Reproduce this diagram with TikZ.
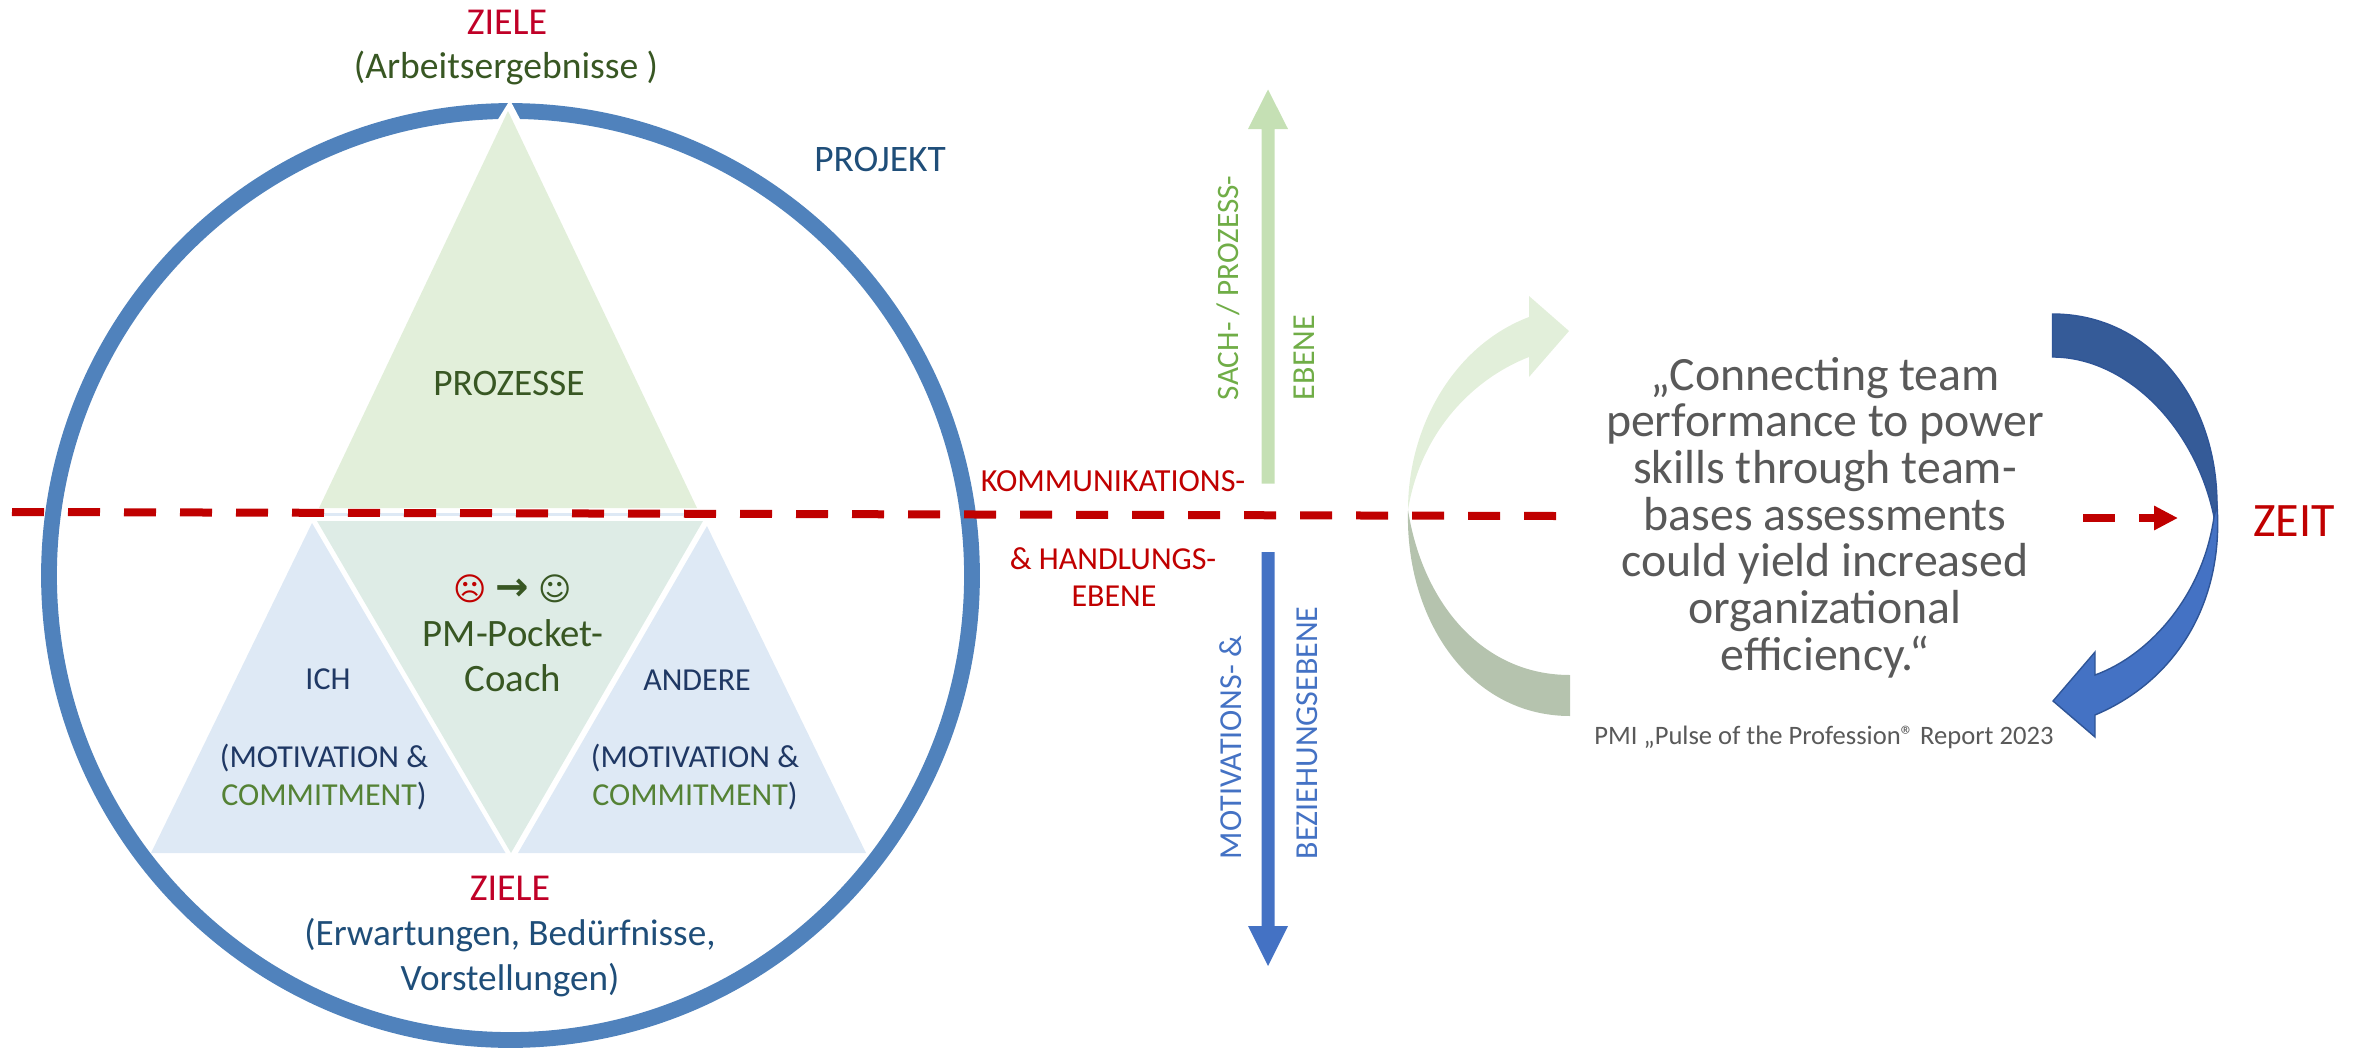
\documentclass[tikz,border=0pt]{standalone}
\usepackage{fontspec}
\usetikzlibrary{arrows.meta}
\setmainfont{Carlito}
\newfontfamily\symfont{DejaVu Sans}
\definecolor{ringblue}{HTML}{5082BC}
\definecolor{zred}{HTML}{C00000}
\definecolor{zieler}{HTML}{C00027}
\definecolor{dgreen}{HTML}{385723}
\definecolor{mgreen}{HTML}{548235}
\definecolor{lgreen}{HTML}{70AD47}
\definecolor{navy}{HTML}{1F3864}
\definecolor{dblue}{HTML}{1F4E79}
\definecolor{mblue}{HTML}{4472C4}
\definecolor{sblue}{HTML}{2F5597}
\definecolor{trigreen}{HTML}{E2EFDA}
\definecolor{triblue}{HTML}{DEE9F5}
\definecolor{trimid}{HTML}{DEECE6}
\definecolor{quotegray}{HTML}{595959}
\definecolor{arrowgreen}{HTML}{C5E0B4}
\definecolor{tailgreen}{HTML}{B5C3AE}
\definecolor{tailblue}{HTML}{355B98}
\newcommand{\fs}[1]{\fontsize{#1}{#1}\selectfont}
\tikzset{
  txt/.style={inner sep=0pt,outer sep=0pt,anchor=base,font=\fs{18.7}},
  vtxt/.style={inner sep=0pt,outer sep=0pt,anchor=base west,rotate=90,font=\fs{16}},
  redline/.style={draw=zred,line width=4pt},
  quotetxt/.style={txt,font=\fs{23.9},text=quotegray},
}
\begin{document}
\begin{tikzpicture}[x=0.5pt,y=-0.5pt]
\useasboundingbox (0,0) rectangle (2361,1049);
% ring
\draw[ringblue,line width=7.9pt] (510.5,575.5) ellipse [x radius=461.5,y radius=464.5];
% notch
\fill[white] (510,100) -- (521,121) -- (497,121) -- cycle;
% triangles
\fill[trigreen] (508,111) -- (697,508) -- (319,508) -- cycle;
\fill[triblue] (308,513) rectangle (710,516);
\fill[triblue] (312,523) -- (505.5,853) -- (151,853) -- cycle;
\fill[triblue] (707,526) -- (866,853) -- (518,853) -- cycle;
\fill[trimid] (317,521) -- (703,521) -- (511,853) -- cycle;
% time line
\coordinate (tl1) at (12,512);
\coordinate (tl2) at (1556,516);
\coordinate (tr1) at (2083,518);
\coordinate (tr2) at (2178,518);
\draw[redline,dash pattern=on 16pt off 12pt] (tl1) -- (tl2);
\draw[redline,dash pattern=on 16pt off 12pt,-{Triangle[length=12pt,width=11.5pt]}] (tr1) -- (tr2);
% vertical block arrows
\fill[arrowgreen]
  (1261.5,483.5) -- (1261.5,129) -- (1248,129) -- (1268,89.5) -- (1288,129) -- (1274.5,129) -- (1274.5,483.5) -- cycle;
\fill[mblue]
  (1261.5,552) -- (1261.5,926) -- (1248,926) -- (1268,966) -- (1288,926) -- (1274.5,926) -- (1274.5,552) -- cycle;
% green curved arrow
\fill[trigreen] (1408,510) .. controls (1408,425) and (1455,345) .. (1529,317)
  -- (1529,296) -- (1569,331) -- (1529,377) -- (1529,357)
  .. controls (1470,380) and (1420,435) .. (1408,510) -- cycle;
\fill[tailgreen] (1408,510) .. controls (1405,620) and (1470,716) .. (1570,716)
  -- (1570,675) .. controls (1480,675) and (1422,600) .. (1408,510) -- cycle;
% blue curved arrow
\filldraw[fill=tailblue,draw=sblue,line width=0.7pt] (2052.5,314) .. controls (2150,314) and (2217,400) .. (2217,505)
  -- (2214,517) .. controls (2195,425) and (2125,357) .. (2052.5,357) -- cycle;
\filldraw[fill=mblue,draw=sblue,line width=0.7pt] (2217,505) .. controls (2224,600) and (2178,680) .. (2095,715)
  -- (2095,737) -- (2053,701) -- (2095,652) -- (2095,675)
  .. controls (2150,655) and (2203,595) .. (2214,517) -- cycle;
% labels, left
\node[txt,text=zieler,font=\fs{19}] (zt) at (507,34) {ZIELE};
\node[txt,text=dgreen,font=\fs{18.8}] (ze) at (506,78) {(Arbeitsergebnisse )};
\node[txt,text=dblue] (proj) at (880,171) {PROJEKT};
\node[txt,text=dgreen] (proz) at (509,395) {PROZESSE};
\node[txt,text=zred,font=\symfont\fs{16}] (sad) at (470,600) {☹};
\node[txt,text=dgreen,font=\symfont\bfseries\fs{20}] (arr) at (512,600) {→};
\node[txt,text=dgreen,font=\symfont\fs{16}] (hap) at (555,600) {☺};
\node[txt,text=dgreen,font=\fs{19.4}] (pm1) at (513,646) {PM-Pocket-};
\node[txt,text=dgreen,font=\fs{19.4}] (pm2) at (513,691) {Coach};
\node[txt,text=navy,font=\fs{16}] (ich) at (328,689) {ICH};
\node[txt,text=navy,font=\fs{16}] (im) at (324,767) {(MOTIVATION \&};
\node[txt,font=\fs{16}] (ic) at (324,805) {\textcolor{mgreen}{COMMITMENT}\textcolor{navy}{)}};
\node[txt,text=navy,font=\fs{16}] (and) at (697,690) {ANDERE};
\node[txt,text=navy,font=\fs{16}] (am) at (695,767) {(MOTIVATION \&};
\node[txt,font=\fs{16}] (ac) at (695,805) {\textcolor{mgreen}{COMMITMENT}\textcolor{navy}{)}};
\node[txt,text=zieler,font=\fs{19}] (zb) at (510,900) {ZIELE};
\node[txt,text=dblue,font=\fs{18.6}] (zb1) at (510,945) {(Erwartungen, Bedürfnisse,};
\node[txt,text=dblue,font=\fs{18.6}] (zb2) at (510,990) {Vorstellungen)};
% labels, middle
\node[txt,text=zred,font=\fs{16.1}] (k1) at (1113,491) {KOMMUNIKATIONS-};
\node[txt,text=zred,font=\fs{16}] (k2) at (1113,569) {\& HANDLUNGS-};
\node[txt,text=zred,font=\fs{16}] (k3) at (1114,606) {EBENE};
\node[vtxt,text=lgreen,font=\fs{15.6}] (s1) at (1238,400) {SACH- / PROZESS-};
\node[vtxt,text=lgreen] (s2) at (1314,400) {EBENE};
\node[vtxt,text=mblue] (m1) at (1241,859) {MOTIVATIONS- \&};
\node[vtxt,text=mblue] (m2) at (1317,859) {BEZIEHUNGSEBENE};
% quote
\node[quotetxt] (q1) at (1825,390) {„Connecting team};
\node[quotetxt] (q2) at (1825,436) {performance to power};
\node[quotetxt] (q3) at (1825,483) {skills through team-};
\node[quotetxt] (q4) at (1825,530) {bases assessments};
\node[quotetxt] (q5) at (1825,576) {could yield increased};
\node[quotetxt] (q6) at (1825,623) {organizational};
\node[quotetxt] (q7) at (1825,670) {efficiency.“};
\node[txt,text=quotegray,font=\fs{13.3}] (pmi) at (1824,744) {PMI „Pulse of the Profession® Report 2023};
\node[txt,text=zred,font=\fs{24}] (zeit) at (2294,536) {ZEIT};
\end{tikzpicture}
\end{document}
